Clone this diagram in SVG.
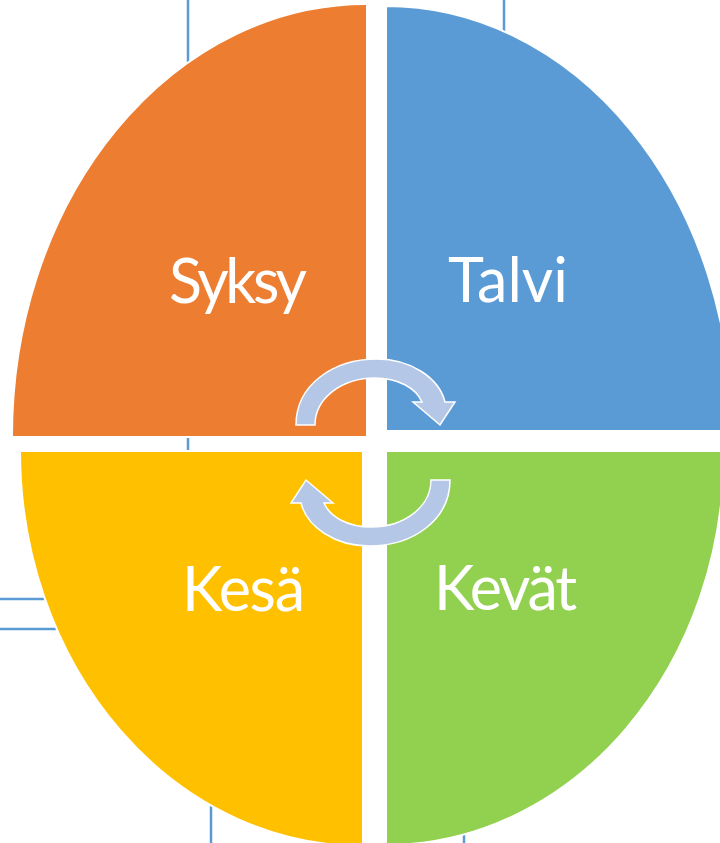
<svg xmlns="http://www.w3.org/2000/svg" width="720" height="843" viewBox="0 0 720 843">
<style>
.q{stroke:#fff;stroke-width:2}
.lbl{font-family:Lato,"Liberation Sans",sans-serif;font-size:61px;fill:#fff}
.ln{stroke:#5B9BD5;stroke-width:2.5;fill:none}
.arr{fill:#B4C7E7;stroke:#fff;stroke-width:1.5;stroke-linejoin:miter}
</style>
<defs>
<path id="arc" d="M296,425 C296,385 333,359 377,359 C411,359 439,378 445,402 L455,402 L440,425 L413,402 L422,402 C416,388 398,378 375,378 C342,378 315,398 315,425 Z"/>
</defs>
<rect width="720" height="843" fill="#fff"/>
<g id="connectors">
<line class="ln" x1="188" y1="0" x2="188" y2="600"/>
<line class="ln" x1="504" y1="0" x2="504" y2="200"/>
<line class="ln" x1="0" y1="599" x2="200" y2="599"/>
<line class="ln" x1="0" y1="629" x2="200" y2="629"/>
<line class="ln" x1="211" y1="700" x2="211" y2="843"/>
<line class="ln" x1="464" y1="700" x2="464" y2="843"/>
</g>
<g id="syksy">
<path class="q" fill="#ED7D31" d="M367,437 L12,437 A354,432 0 0 1 367,4 Z"/>
<text class="lbl" x="169" y="303" textLength="138">Syksy</text>
</g>
<g id="talvi">
<path class="q" fill="#5B9BD5" d="M386,431 L386,6 A346,424 0 0 1 732,431 Z"/>
<text class="lbl" x="448" y="302" textLength="120">Talvi</text>
</g>
<g id="kesa">
<path class="q" fill="#FFC000" d="M363,451 L20,451 A342,395 0 0 0 363,846 Z"/>
<text class="lbl" x="182" y="611" textLength="123">Kesä</text>
</g>
<g id="kevat">
<path class="q" fill="#92D050" d="M386,451 L386,845 A338,393 0 0 0 724,451 Z"/>
<text class="lbl" x="434" y="610" textLength="143">Kevät</text>
</g>
<g id="cycle-arrows">
<use href="#arc" class="arr"/>
<use href="#arc" class="arr" transform="rotate(180 373 452.5)"/>
</g>
</svg>
